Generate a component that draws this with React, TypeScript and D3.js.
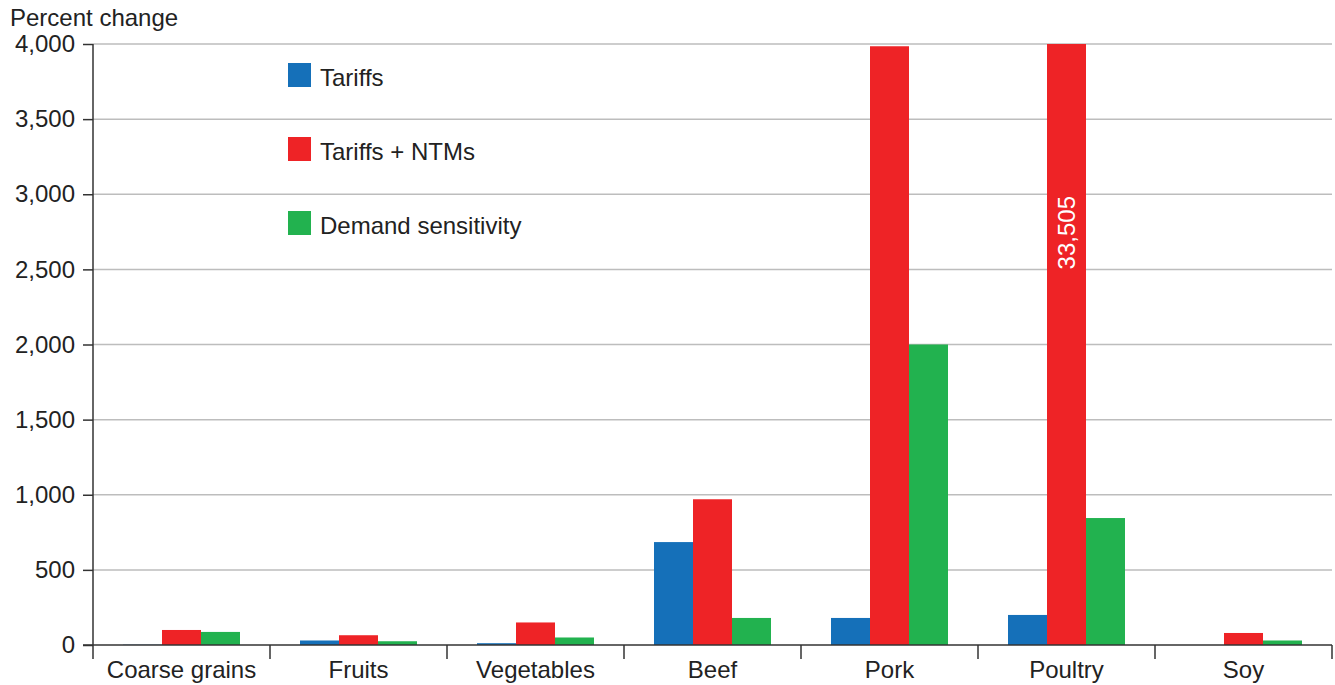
import { useEffect, useRef } from "react";
import * as d3 from "d3";

const categories = ["Coarse grains", "Fruits", "Vegetables", "Beef", "Pork", "Poultry", "Soy"];
const seriesNames = ["Tariffs", "Tariffs + NTMs", "Demand sensitivity"];
const tariffs = [2, 30, 12, 685, 180, 200, 0];
const tariffsNtms = [100, 65, 150, 970, 3985, 33505, 80];
const demandSensitivity = [87, 25, 50, 180, 2000, 845, 30];
const yTicks = [0, 500, 1000, 1500, 2000, 2500, 3000, 3500, 4000];
const colors = ["#1570b9", "#ee2326", "#22b24f"];

const width = 1335;
const height = 685;
const margin = { top: 44, right: 3, bottom: 40, left: 93 };

const App = () => {
  const svgRef = useRef<SVGSVGElement>(null);

  useEffect(() => {
    document.body.style.margin = "0";
    if (!svgRef.current) return;
    const svg = d3.select(svgRef.current);
    svg.selectAll("*").remove();

    const values = [tariffs, tariffsNtms, demandSensitivity];
    const font = "'Liberation Sans', Arial, sans-serif";

    const x = d3
      .scaleBand<string>()
      .domain(categories)
      .range([margin.left, width - margin.right])
      .padding(0);
    const xInner = d3
      .scaleBand<string>()
      .domain(seriesNames)
      .range([30, x.bandwidth() - 30]);
    const y = d3
      .scaleLinear()
      .domain([0, 4000])
      .range([height - margin.bottom, margin.top])
      .clamp(true);

    // gridlines
    svg
      .append("g")
      .selectAll("line")
      .data(yTicks.filter((d) => d > 0))
      .enter()
      .append("line")
      .attr("x1", margin.left)
      .attr("x2", width - margin.right)
      .attr("y1", (d) => y(d))
      .attr("y2", (d) => y(d))
      .attr("stroke", "#bdbdbd")
      .attr("stroke-width", 1.5);

    // bars
    const groups = svg
      .append("g")
      .selectAll("g")
      .data(categories)
      .enter()
      .append("g")
      .attr("transform", (d) => `translate(${x(d)},0)`);

    groups
      .selectAll("rect")
      .data((_, i) => seriesNames.map((s, j) => ({ s, v: values[j][i], c: colors[j] })))
      .enter()
      .append("rect")
      .attr("x", (d) => xInner(d.s)!)
      .attr("width", xInner.bandwidth())
      .attr("y", (d) => y(d.v))
      .attr("height", (d) => y(0) - y(d.v))
      .attr("fill", (d) => d.c);

    // value label for the clipped bar
    const pi = categories.indexOf("Poultry");
    const lx = x("Poultry")! + xInner("Tariffs + NTMs")! + xInner.bandwidth() / 2;
    svg
      .append("text")
      .attr("transform", `translate(${lx + 8},${y(2500)}) rotate(-90)`)
      .attr("fill", "#fff")
      .attr("font-family", font)
      .attr("font-size", 24)
      .text(d3.format(",")(tariffsNtms[pi]));

    // y axis
    const yAxis = svg
      .append("g")
      .attr("transform", `translate(${margin.left},0)`)
      .call(
        d3
          .axisLeft(y)
          .tickValues(yTicks)
          .tickSize(10)
          .tickPadding(8)
          .tickFormat((d) => d3.format(",")(d as number)),
      );
    yAxis.select(".domain").attr("d", `M0,${margin.top}V${y(0) + 14}`).attr("stroke", "#333").attr("stroke-width", 1.5);
    yAxis.selectAll(".tick line").attr("stroke", "#333").attr("stroke-width", 1.5);
    yAxis
      .selectAll(".tick text")
      .attr("font-family", font)
      .attr("font-size", 24)
      .attr("fill", "#222");

    // x axis
    const xAxis = svg
      .append("g")
      .attr("transform", `translate(0,${y(0)})`)
      .call(d3.axisBottom(x).tickSize(0).tickPadding(16));
    xAxis.select(".domain").attr("d", `M${margin.left - 10},0H${width - margin.right}`).attr("stroke", "#333").attr("stroke-width", 1.5);
    xAxis
      .selectAll(".tick text")
      .attr("font-family", font)
      .attr("font-size", 24)
      .attr("fill", "#222");
    xAxis
      .append("g")
      .selectAll("line")
      .data(categories.slice(1).concat("end"))
      .enter()
      .append("line")
      .attr("x1", (d) => (d === "end" ? width - margin.right : x(d)!))
      .attr("x2", (d) => (d === "end" ? width - margin.right : x(d)!))
      .attr("y1", 0)
      .attr("y2", 14)
      .attr("stroke", "#333")
      .attr("stroke-width", 1.5);

    // axis title
    svg
      .append("text")
      .attr("x", 10)
      .attr("y", 26)
      .attr("font-family", font)
      .attr("font-size", 24)
      .attr("fill", "#222")
      .text("Percent change");

    // legend
    const legend = svg
      .append("g")
      .selectAll("g")
      .data(seriesNames)
      .enter()
      .append("g")
      .attr("transform", (_, i) => `translate(288,${63 + i * 74})`);
    legend
      .append("rect")
      .attr("width", 23)
      .attr("height", 24)
      .attr("fill", (_, i) => colors[i]);
    legend
      .append("text")
      .attr("x", 32)
      .attr("y", 23)
      .attr("font-family", font)
      .attr("font-size", 24)
      .attr("fill", "#222")
      .text((d) => d);
  }, []);

  return <svg ref={svgRef} width={width} height={height} style={{ display: "block", background: "#fff" }} />;
};

export default App;
